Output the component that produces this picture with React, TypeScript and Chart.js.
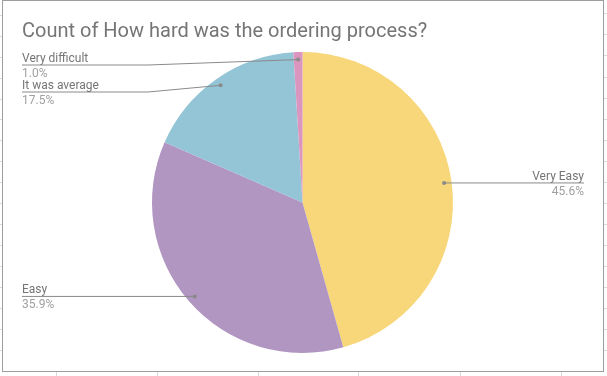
import React, { useEffect, useRef } from "react";
import { Chart, registerables } from "chart.js";

Chart.register(...registerables);

const titleText = "Count of How hard was the ordering process?";
const categories = ["Very Easy", "Easy", "It was average", "Very difficult"];
const counts = [47, 37, 18, 1];
const sliceColors = ["#F8D67A", "#B196C2", "#94C5D6", "#DB96BF"];

const labelPlugin = {
  id: "sheetLabels",
  afterDraw(chart: any) {
    const ctx = chart.ctx;
    const meta = chart.getDatasetMeta(0);
    const data = chart.data.datasets[0].data as number[];
    const total = data.reduce((a: number, b: number) => a + b, 0);
    ctx.save();
    // title
    ctx.font = "20px Roboto";
    ctx.fillStyle = "#757575";
    ctx.textAlign = "left";
    ctx.textBaseline = "alphabetic";
    ctx.fillText(titleText, 22, 37);

    const items: any[] = [];
    meta.data.forEach((arc: any, i: number) => {
      const mid = (arc.startAngle + arc.endAngle) / 2;
      const R = arc.outerRadius;
      const dx = arc.x + Math.cos(mid) * R * 0.95;
      const dy = arc.y + Math.sin(mid) * R * 0.95;
      const right = Math.cos(mid) > 0.05;
      items.push({ i, dx, dy, right, cx: arc.x, R, y: dy });
    });
    const left = items.filter((d) => !d.right).sort((a, b) => a.dy - b.dy);
    let prev = -Infinity;
    left.forEach((d) => {
      d.y = Math.max(d.dy, prev + 27, 65);
      prev = d.y;
    });
    const rightItems = items.filter((d) => d.right).sort((a, b) => a.dy - b.dy);
    prev = -Infinity;
    rightItems.forEach((d) => {
      d.y = Math.max(d.dy, prev + 27, 65);
      prev = d.y;
    });

    items.forEach((d) => {
      const name = chart.data.labels[d.i];
      const pct = ((data[d.i] / total) * 100).toFixed(1) + "%";
      ctx.strokeStyle = "#8a8a8a";
      ctx.lineWidth = 1;
      ctx.beginPath();
      let tx: number;
      if (d.right) {
        tx = 584;
        const ex = d.cx + d.R + 8;
        ctx.moveTo(d.dx, d.dy);
        ctx.lineTo(ex, d.y);
        ctx.lineTo(tx, d.y);
      } else {
        tx = 22;
        const ex = d.cx - d.R - 4;
        ctx.moveTo(d.dx, d.dy);
        ctx.lineTo(Math.min(ex, d.dx), d.y);
        ctx.lineTo(tx, d.y);
      }
      ctx.stroke();
      ctx.fillStyle = "#8a8a8a";
      ctx.beginPath();
      ctx.arc(d.dx, d.dy, 2, 0, Math.PI * 2);
      ctx.fill();
      ctx.font = "12px Roboto";
      ctx.textAlign = d.right ? "right" : "left";
      ctx.fillStyle = "#757575";
      ctx.fillText(name, tx, d.y - 3);
      ctx.fillStyle = "#a0a0a0";
      ctx.fillText(pct, tx, d.y + 12);
    });
    ctx.restore();
  },
};

export default function App() {
  const ref = useRef<HTMLCanvasElement | null>(null);
  useEffect(() => {
    document.body.style.margin = "0";
    const chart = new Chart(ref.current as HTMLCanvasElement, {
      type: "pie",
      data: {
        labels: categories,
        datasets: [
          {
            data: counts,
            backgroundColor: sliceColors,
            borderWidth: 0,
          },
        ],
      },
      options: {
        animation: false,
        responsive: false,
        layout: { padding: { top: 52, bottom: 23, left: 152, right: 154 } },
        plugins: { legend: { display: false }, tooltip: { enabled: false }, title: { display: false } },
      },
      plugins: [labelPlugin],
    });
    return () => chart.destroy();
  }, []);

  const leftTicks = [15, 36, 57, 78, 99, 119, 140, 161, 182, 203, 224, 245, 266, 287, 308, 329, 350];
  const rightTicks = [13, 34, 55, 77, 98, 119, 140, 161, 182, 203, 224, 245, 266, 287, 308, 329, 350];
  const bottomTicks = [56, 157, 258, 358, 460, 561];
  return (
    <div style={{ position: "relative", width: 607, height: 376, overflow: "hidden", background: "#fff" }}>
      {leftTicks.map((y) => (
        <div key={"l" + y} style={{ position: "absolute", left: 0, top: y, width: 2, height: 1, background: "#dadada" }} />
      ))}
      {rightTicks.map((y) => (
        <div key={"r" + y} style={{ position: "absolute", left: 604, top: y, width: 3, height: 1, background: "#dadada" }} />
      ))}
      {bottomTicks.map((x) => (
        <div key={"b" + x} style={{ position: "absolute", left: x, top: 372, width: 1, height: 4, background: "#dadada" }} />
      ))}
      <div
        style={{
          position: "absolute",
          left: 2,
          top: 0,
          width: 602,
          height: 372,
          boxSizing: "border-box",
          border: "1px solid #9e9e9e",
        }}
      />
      <canvas ref={ref} width={607} height={376} style={{ position: "absolute", left: 0, top: 0 }} />
    </div>
  );
}
